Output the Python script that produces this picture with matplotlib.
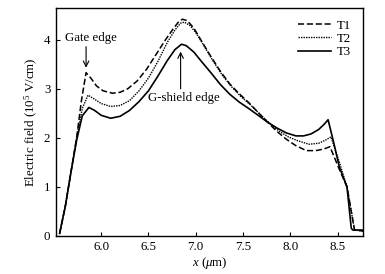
import matplotlib
matplotlib.use('Agg')
import matplotlib.pyplot as plt

plt.rcParams['font.family'] = ['Liberation Serif', 'DejaVu Serif']
plt.rcParams['mathtext.fontset'] = 'custom'
plt.rcParams['mathtext.rm'] = 'Liberation Serif'
plt.rcParams['mathtext.it'] = 'Liberation Serif:italic'

# T1 (dashed)
x_t1 = [5.56, 5.62, 5.68, 5.74, 5.79, 5.84, 5.89, 5.95, 6.02, 6.12, 6.2, 6.28,
        6.38, 6.48, 6.58, 6.68, 6.76, 6.82, 6.86, 6.91, 6.98, 7.06, 7.16, 7.26,
        7.36, 7.46, 7.56, 7.66, 7.76, 7.86, 7.96, 8.06, 8.17, 8.27, 8.35, 8.42,
        8.51, 8.60, 8.65, 8.68, 8.77]
y_t1 = [0.05, 0.6, 1.3, 2.0, 2.75, 3.33, 3.22, 3.06, 2.96, 2.91, 2.93, 3.0,
        3.16, 3.40, 3.70, 4.00, 4.22, 4.37, 4.42, 4.39, 4.24, 3.98, 3.66, 3.36,
        3.10, 2.90, 2.72, 2.52, 2.32, 2.13, 1.97, 1.84, 1.74, 1.74, 1.77, 1.82,
        1.4, 1.0, 0.45, 0.12, 0.1]

# T2 (dotted)
x_t2 = [5.56, 5.62, 5.68, 5.74, 5.80, 5.86, 5.92, 6.0, 6.1, 6.2, 6.3, 6.4,
        6.5, 6.6, 6.7, 6.78, 6.84, 6.88, 6.94, 7.0, 7.08, 7.18, 7.28, 7.38,
        7.48, 7.58, 7.68, 7.78, 7.88, 7.98, 8.08, 8.2, 8.3, 8.37, 8.43, 8.52,
        8.60, 8.65, 8.68, 8.77]
y_t2 = [0.05, 0.6, 1.3, 2.0, 2.6, 2.87, 2.80, 2.70, 2.64, 2.66, 2.76, 2.96,
        3.22, 3.56, 3.95, 4.2, 4.34, 4.36, 4.29, 4.15, 3.90, 3.58, 3.28, 3.04,
        2.84, 2.67, 2.48, 2.30, 2.14, 2.02, 1.94, 1.87, 1.89, 1.95, 2.02, 1.5,
        1.0, 0.45, 0.12, 0.1]

# T3 (solid)
x_t3 = [5.56, 5.62, 5.68, 5.74, 5.80, 5.87, 5.93, 6.0, 6.1, 6.2, 6.3, 6.4,
        6.5, 6.6, 6.7, 6.78, 6.85, 6.9, 6.98, 7.06, 7.16, 7.26, 7.36, 7.46,
        7.56, 7.66, 7.76, 7.86, 7.96, 8.06, 8.14, 8.22, 8.30, 8.36, 8.40, 8.46,
        8.52, 8.60, 8.645, 8.66, 8.77]
y_t3 = [0.05, 0.6, 1.3, 1.95, 2.45, 2.62, 2.56, 2.46, 2.40, 2.44, 2.56, 2.74,
        2.96, 3.26, 3.58, 3.8, 3.91, 3.88, 3.75, 3.56, 3.33, 3.09, 2.89, 2.73,
        2.60, 2.46, 2.32, 2.20, 2.10, 2.04, 2.04, 2.08, 2.17, 2.28, 2.37, 1.9,
        1.4, 1.0, 0.16, 0.12, 0.12]

x_ticks = [6.0, 6.5, 7.0, 7.5, 8.0, 8.5]
y_ticks = [0, 1, 2, 3, 4]

fs = 9.3

fig = plt.figure(figsize=(3.85, 2.74), dpi=100)
ax = fig.add_axes([0.145, 0.139, 0.798, 0.832])

ax.plot(x_t1, y_t1, color='black', lw=1.1, ls=(0, (4, 1.8)), label='T1')
ax.plot(x_t2, y_t2, color='black', lw=1.0, ls=(0, (1, 0.8)), label='T2')
ax.plot(x_t3, y_t3, color='black', lw=1.2, ls='-', label='T3')

ax.set_xlim(5.52, 8.77)
ax.set_ylim(0, 4.65)
ax.set_xticks(x_ticks)
ax.set_xticklabels([f'{v:.1f}' for v in x_ticks])
ax.set_yticks(y_ticks)
ax.tick_params(direction='in', length=3, width=0.8, labelsize=fs, pad=4)
for s in ax.spines.values():
    s.set_linewidth(1.0)

ax.set_xlabel(r'$x$ ($\mu$m)', fontsize=fs, labelpad=1)
ax.set_ylabel(r'Electric field (10$^5$ V/cm)', fontsize=fs, labelpad=3)

ax.text(5.895, 4.04, 'Gate edge', fontsize=fs, ha='center', va='center')
ax.annotate('', xy=(5.84, 3.43), xytext=(5.84, 3.86),
            arrowprops=dict(arrowstyle='->', color='black', lw=0.8,
                            shrinkA=0, shrinkB=0))
ax.text(6.87, 2.82, 'G-shield edge', fontsize=fs, ha='center', va='center')
ax.annotate('', xy=(6.84, 3.76), xytext=(6.84, 3.0),
            arrowprops=dict(arrowstyle='->', color='black', lw=0.8,
                            shrinkA=0, shrinkB=0))

ax.legend(loc='upper right', frameon=False, fontsize=fs, handlelength=2.5,
          handletextpad=0.5, labelspacing=0.1, borderaxespad=0.5)

fig.savefig('out.png', dpi=100)
